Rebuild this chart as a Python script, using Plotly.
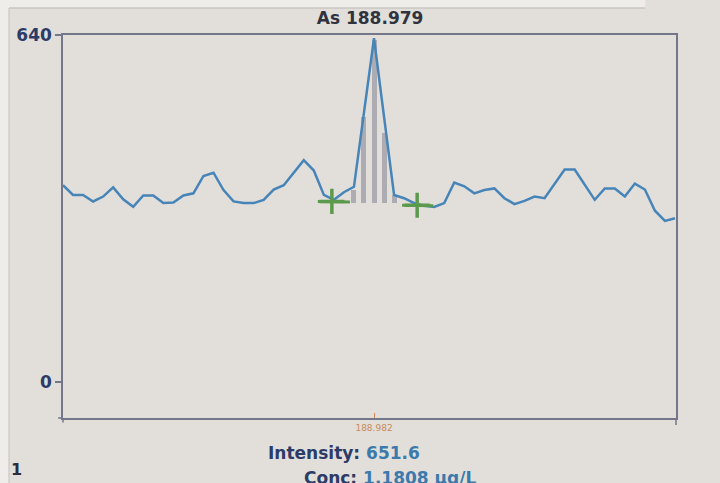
import plotly.graph_objects as go

# --- data ---
point_index = list(range(62))
intensity = [363, 345, 345, 333, 342, 359, 337, 323, 344, 344,
             330, 331, 344, 348, 380, 386, 354, 333, 330, 330,
             336, 355, 363, 386, 409, 390, 345, 336, 350, 360,
             497, 634, 489, 345, 339, 330, 325, 323, 330, 368,
             361, 348, 354, 357, 339, 328, 334, 342, 339, 366,
             392, 392, 363, 336, 357, 357, 342, 366, 355, 316,
             297, 302]

bar_index = [29, 30, 31, 32, 33]
bar_top = [354, 489, 630, 459, 345]
bar_base = 330

left_bg_x = [25.4, 28.6]
left_bg_y = [333, 332]
right_bg_x = [33.8, 36.9]
right_bg_y = [326, 325]
bg_marker_x = [26.8, 35.3]
bg_marker_y = [333, 326]

y_ticks = [0, 640]
x_tick_pos = [31]
x_tick_text = ["188.982"]

title_text = "As 188.979"
intensity_label = "Intensity:"
intensity_value = "651.6"
conc_label = "Conc:"
conc_value = "1.1808 µg/L"

FONT = "DejaVu Sans"
NAVY = "#2c3c66"
BLUE_TXT = "#3b7aab"
BG = "#e2dfdb"
FRAME = "#74778a"
GREEN = "#5b9a4c"

fig = go.Figure()

fig.add_trace(go.Bar(
    x=bar_index, y=[t - bar_base for t in bar_top], base=bar_base,
    width=0.5, marker=dict(color="#aeacb3", line=dict(width=0)),
    hoverinfo="skip", showlegend=False))

fig.add_trace(go.Scatter(
    x=point_index, y=intensity, mode="lines",
    line=dict(color="#4784b8", width=2.5), showlegend=False))

fig.add_trace(go.Scatter(
    x=left_bg_x, y=left_bg_y, mode="lines",
    line=dict(color=GREEN, width=3), showlegend=False))
fig.add_trace(go.Scatter(
    x=right_bg_x, y=right_bg_y, mode="lines",
    line=dict(color=GREEN, width=3), showlegend=False))
fig.add_trace(go.Scatter(
    x=bg_marker_x, y=bg_marker_y, mode="markers",
    marker=dict(symbol="cross-thin", size=18, color=GREEN,
                line=dict(color=GREEN, width=3.5)),
    showlegend=False))

# photo margin strips
fig.add_shape(type="rect", xref="paper", yref="paper",
              x0=-0.11, x1=-0.0881, y0=-0.2, y1=1.1,
              fillcolor="#efedea", line=dict(width=0), layer="below")
fig.add_shape(type="rect", xref="paper", yref="paper",
              x0=-0.11, x1=0.95, y0=1.0705, y1=1.1,
              fillcolor="#efedea", line=dict(width=0), layer="below")
fig.add_shape(type="line", xref="paper", yref="paper",
              x0=-0.0881, x1=0.95, y0=1.0705, y1=1.0705,
              line=dict(color="#b9b7b5", width=1))
fig.add_shape(type="line", xref="paper", yref="paper",
              x0=-0.0881, x1=-0.0881, y0=-0.2, y1=1.0705,
              line=dict(color="#c4c2c0", width=1))
# axis overhangs
fig.add_shape(type="line", xref="paper", yref="paper",
              x0=0, x1=0, y0=-0.012, y1=0,
              line=dict(color=FRAME, width=1.5))
fig.add_shape(type="line", xref="paper", yref="paper",
              x0=-0.008, x1=0, y0=0, y1=0,
              line=dict(color=FRAME, width=1.5))
fig.add_shape(type="line", xref="paper", yref="paper",
              x0=1, x1=1, y0=-0.018, y1=0,
              line=dict(color=FRAME, width=1.5))

fig.add_annotation(
    text=f"{intensity_label} <span style='color:{BLUE_TXT}'>{intensity_value}</span>",
    xref="paper", yref="paper", x=0.4576, y=-0.0914,
    xanchor="center", yanchor="middle", showarrow=False,
    font=dict(family=FONT, size=17, color=NAVY, weight=700))
fig.add_annotation(
    text=f"{conc_label} <span style='color:{BLUE_TXT}'>{conc_value}</span>",
    xref="paper", yref="paper", x=0.39, y=-0.156,
    xanchor="left", yanchor="middle", showarrow=False,
    font=dict(family=FONT, size=17, color=NAVY, weight=700))
fig.add_annotation(
    text="1", xref="paper", yref="paper", x=-0.088, y=-0.134,
    xanchor="left", yanchor="middle", showarrow=False,
    font=dict(family=FONT, size=16, color="#2a2c40", weight=700))

fig.update_layout(
    width=720, height=483,
    margin=dict(l=63, r=44, t=35, b=65),
    paper_bgcolor=BG, plot_bgcolor=BG,
    title=dict(text=title_text, x=0.514, xanchor="center",
               y=0.963, yanchor="middle",
               font=dict(family=FONT, size=17, color="#30333d", weight=700)),
    bargap=0, showlegend=False,
    xaxis=dict(range=[0, 61.1], showline=True, mirror=True,
               linecolor=FRAME, linewidth=1.5, showgrid=False,
               zeroline=False, tickvals=x_tick_pos, ticktext=x_tick_text,
               ticks="inside", ticklen=5, tickcolor="#d08a55", tickwidth=1,
               tickfont=dict(family=FONT, size=9, color="#c98a5a")),
    yaxis=dict(range=[-66.4, 640], showline=True, mirror=True,
               linecolor=FRAME, linewidth=1.5, showgrid=False,
               zeroline=False, tickvals=y_ticks, ticks="outside",
               ticklen=6, tickcolor=FRAME, tickwidth=1.5,
               tickfont=dict(family=FONT, size=17, color=NAVY, weight=700)),
)

fig.write_html("out.html", config={"displayModeBar": False},
               post_script="document.body.style.margin='0';document.body.style.overflow='hidden';")
